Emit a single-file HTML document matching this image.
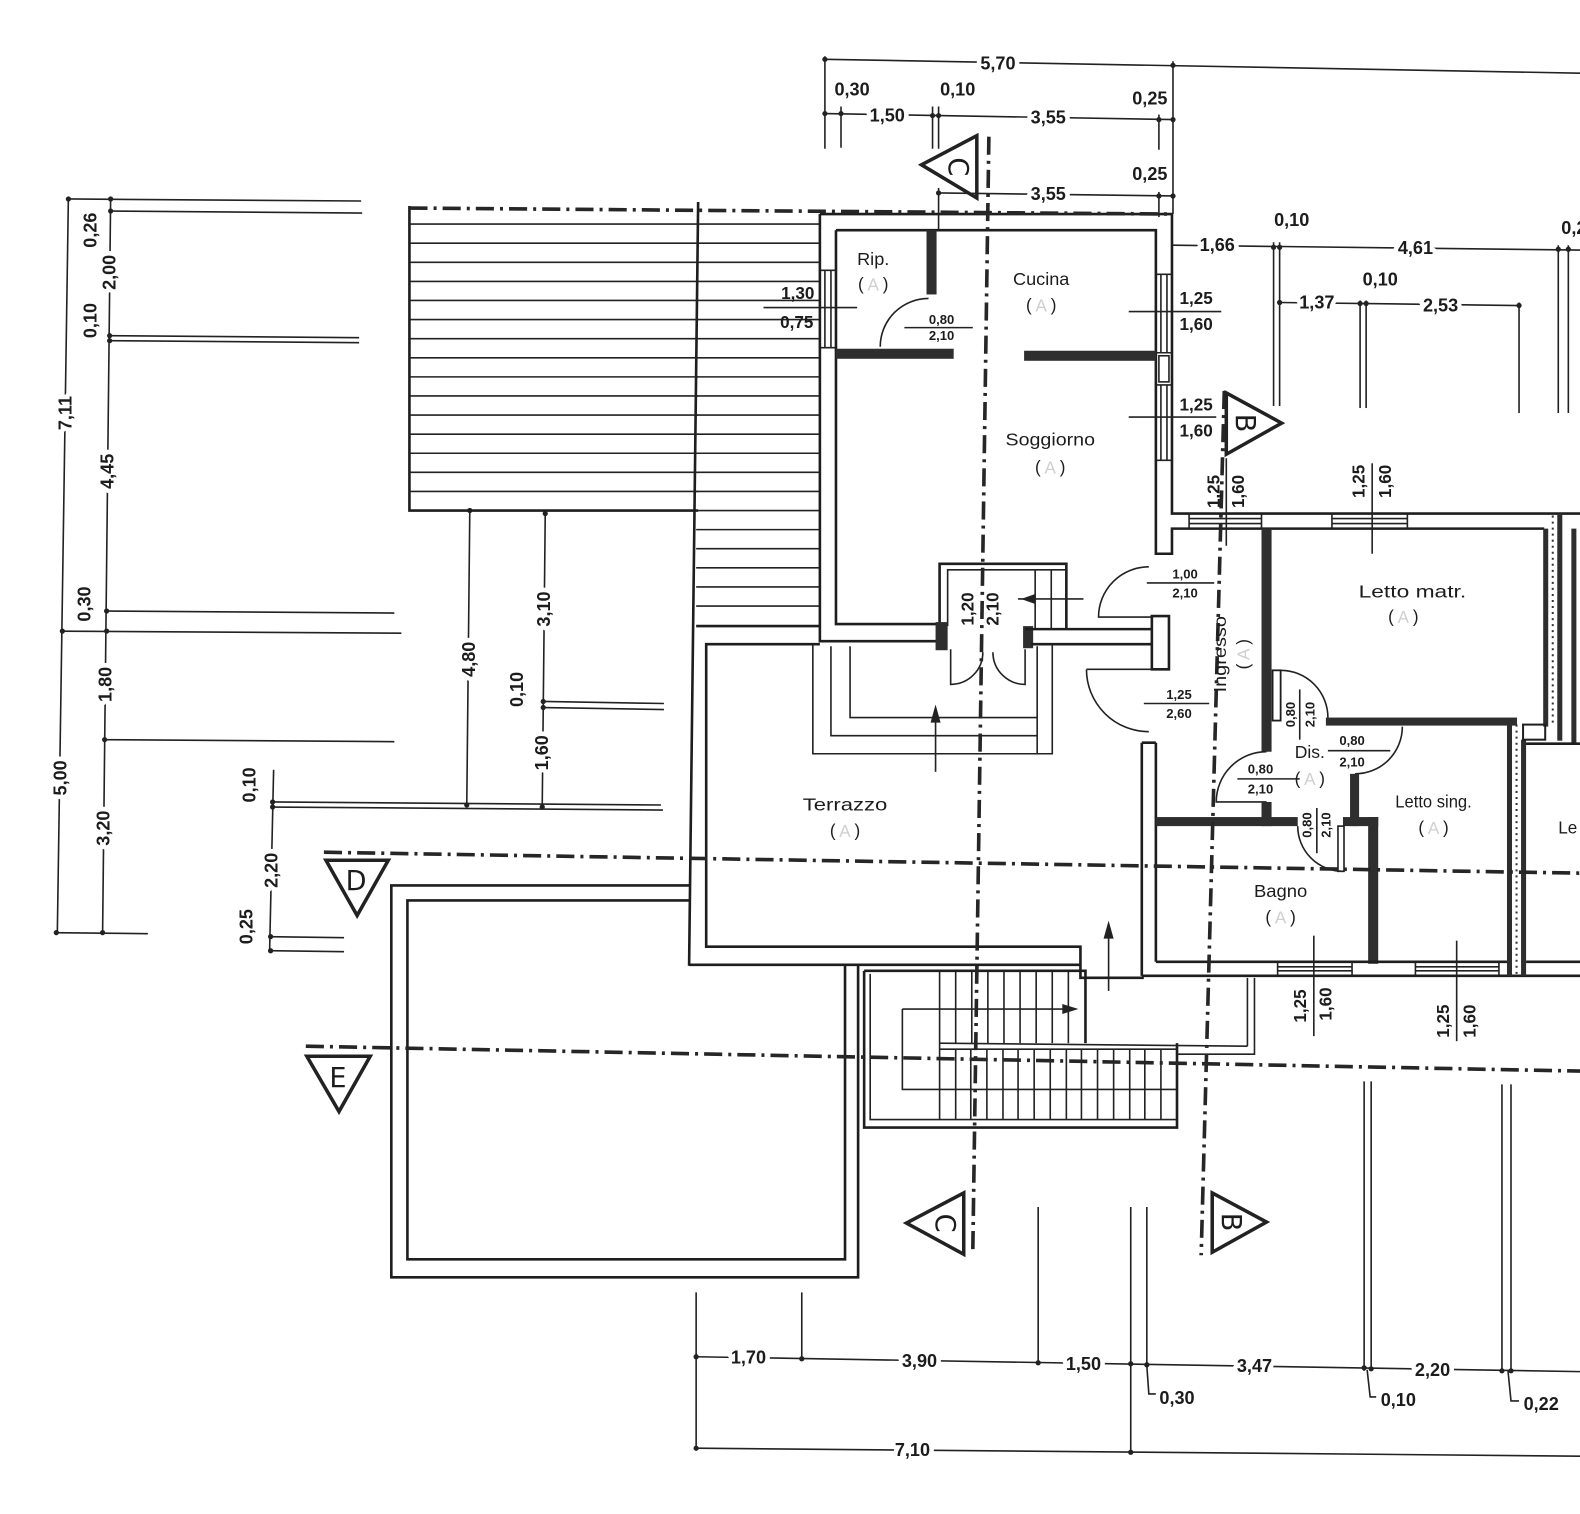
<!DOCTYPE html>
<html><head><meta charset="utf-8"><title>Pianta</title>
<style>
html,body{margin:0;padding:0;background:#fff;overflow:hidden}
svg{display:block}
text{font-family:"Liberation Sans",Arial,sans-serif;fill:#1c1c1c;text-anchor:middle;dominant-baseline:central}
.d{font-size:18px;font-weight:bold;stroke:#fff;stroke-width:9px;paint-order:stroke;stroke-linejoin:round}
.n{font-size:17px;font-weight:bold}
.s{font-size:13px;font-weight:bold}
.r{font-size:17px}
.a{fill:#cfcfcf}
.t{stroke:#222;stroke-width:1.6;fill:none}
.w{stroke:#1e1e1e;stroke-width:2.6;fill:none}
.f{fill:#2e2e2e}
.dd{stroke:#262626;stroke-width:3.6;fill:none;stroke-dasharray:18 6 3 6}
.tri{stroke:#222;stroke-width:3.5;fill:#fff;stroke-linejoin:miter}
.L{font-size:27px;font-family:"DejaVu Sans",sans-serif}
.dt{fill:#222}
</style></head><body>
<svg width="1580" height="1514" viewBox="0 0 1580 1514" xmlns="http://www.w3.org/2000/svg">
<rect width="1580" height="1514" fill="#fff"/>
<g transform="translate(2,1) scale(1.006,1.005)">

<!-- ===== LEFT DIMENSIONS ===== -->
<g class="t">
<line x1="66" y1="195" x2="55" y2="927"/>
<line x1="108" y1="195" x2="100" y2="927"/>
<line x1="66" y1="197" x2="357" y2="199"/>
<line x1="108" y1="209" x2="358" y2="211"/>
<line x1="107" y1="333" x2="355" y2="335"/>
<line x1="107" y1="338" x2="355" y2="340"/>
<line x1="104" y1="607" x2="390" y2="609"/>
<line x1="60" y1="627" x2="397" y2="629"/>
<line x1="102" y1="735" x2="390" y2="737"/>
<line x1="52" y1="927" x2="145" y2="928"/>
<line x1="270" y1="765" x2="266" y2="946"/>
<line x1="268" y1="797" x2="655" y2="800"/>
<line x1="268" y1="802" x2="657" y2="805"/>
<line x1="266" y1="931" x2="340" y2="932"/>
<line x1="266" y1="945" x2="340" y2="946"/>
<line x1="465" y1="507" x2="462" y2="800"/>
<line x1="540" y1="510" x2="537" y2="802"/>
<line x1="538" y1="697" x2="658" y2="699"/>
<line x1="538" y1="703" x2="658" y2="705"/>
</g>
<g class="dt">
<circle cx="66" cy="197" r="2.6"/><circle cx="108" cy="197" r="2.6"/><circle cx="108" cy="209" r="2.6"/>
<circle cx="107" cy="333" r="2.6"/><circle cx="107" cy="338" r="2.6"/><circle cx="104" cy="607" r="2.6"/>
<circle cx="60" cy="627" r="2.6"/><circle cx="104" cy="627" r="2.6"/><circle cx="102" cy="735" r="2.6"/>
<circle cx="54" cy="927" r="2.6"/><circle cx="100" cy="927" r="2.6"/>
<circle cx="269" cy="797" r="2.6"/><circle cx="269" cy="802" r="2.6"/><circle cx="267" cy="931" r="2.6"/><circle cx="267" cy="945" r="2.6"/>
<circle cx="465" cy="507" r="2.6"/><circle cx="540" cy="510" r="2.6"/><circle cx="538" cy="697" r="2.6"/><circle cx="538" cy="703" r="2.6"/>
<circle cx="462" cy="800" r="2.6"/><circle cx="537" cy="802" r="2.6"/>
</g>
<text class="d" transform="translate(88,228) rotate(-90)">0,26</text>
<text class="d" transform="translate(107,270) rotate(-90)">2,00</text>
<text class="d" transform="translate(88,318) rotate(-90)">0,10</text>
<text class="d" transform="translate(63,410) rotate(-90)">7,11</text>
<text class="d" transform="translate(105,468) rotate(-90)">4,45</text>
<text class="d" transform="translate(82,600) rotate(-90)">0,30</text>
<text class="d" transform="translate(103,680) rotate(-90)">1,80</text>
<text class="d" transform="translate(58,773) rotate(-90)">5,00</text>
<text class="d" transform="translate(101,823) rotate(-90)">3,20</text>
<text class="d" transform="translate(246,780) rotate(-90)">0,10</text>
<text class="d" transform="translate(268,865) rotate(-90)">2,20</text>
<text class="d" transform="translate(243,921) rotate(-90)">0,25</text>
<text class="d" transform="translate(464,655) rotate(-90)">4,80</text>
<text class="d" transform="translate(539,605) rotate(-90)">3,10</text>
<text class="d" transform="translate(512,685) rotate(-90)">0,10</text>
<text class="d" transform="translate(537,748) rotate(-90)">1,60</text>

<!-- ===== HATCHED BLOCK + STRIP ===== -->
<path class="w" d="M405,204 V507 H692"/>
<path class="w" d="M692,200 L683,960"/>
<g class="t">
<line x1="405" y1="222" x2="692" y2="222"/><line x1="405" y1="241" x2="692" y2="241"/>
<line x1="405" y1="260" x2="692" y2="260"/><line x1="405" y1="279" x2="692" y2="279"/>
<line x1="405" y1="298" x2="692" y2="298"/><line x1="405" y1="317" x2="692" y2="317"/>
<line x1="405" y1="336" x2="692" y2="336"/><line x1="405" y1="355" x2="692" y2="355"/>
<line x1="405" y1="374" x2="692" y2="374"/><line x1="405" y1="393" x2="692" y2="393"/>
<line x1="405" y1="412" x2="692" y2="412"/><line x1="405" y1="431" x2="692" y2="431"/>
<line x1="405" y1="450" x2="692" y2="450"/><line x1="405" y1="469" x2="692" y2="469"/>
<line x1="405" y1="488" x2="692" y2="488"/>
<line x1="691" y1="222" x2="813" y2="222"/><line x1="691" y1="241" x2="813" y2="241"/>
<line x1="691" y1="260" x2="813" y2="260"/><line x1="691" y1="279" x2="813" y2="279"/>
<line x1="691" y1="298" x2="813" y2="298"/><line x1="691" y1="317" x2="813" y2="317"/>
<line x1="691" y1="336" x2="813" y2="336"/><line x1="691" y1="355" x2="813" y2="355"/>
<line x1="691" y1="374" x2="813" y2="374"/><line x1="691" y1="393" x2="813" y2="393"/>
<line x1="691" y1="412" x2="813" y2="412"/><line x1="691" y1="431" x2="813" y2="431"/>
<line x1="691" y1="450" x2="813" y2="450"/><line x1="691" y1="469" x2="813" y2="469"/>
<line x1="690" y1="488" x2="813" y2="488"/><line x1="690" y1="507" x2="813" y2="507"/>
<line x1="690" y1="526" x2="813" y2="526"/><line x1="690" y1="545" x2="813" y2="545"/>
<line x1="690" y1="564" x2="813" y2="564"/><line x1="690" y1="583" x2="813" y2="583"/>
<line x1="690" y1="602" x2="813" y2="602"/>
</g>
<path class="w" d="M690,622 H813"/>

<!-- ===== TERRAZZO ===== -->
<path class="w" d="M683,959 H1072"/>
<path class="w" d="M813,640 H700 V941 H1072 V972 H1135"/>
<path class="t" d="M806,640 V749 H1044 V640"/>
<path class="t" d="M824,642 V731 H1029"/>
<path class="t" d="M843,642 V713 H1029"/>
<path class="t" d="M1029,642 V749"/>
<path class="t" d="M928,767 V710"/><polygon class="dt" points="928,700 923,718 933,718"/>
<path class="t" d="M1100,985 V925"/><polygon class="dt" points="1100,915 1095,933 1105,933"/>

<!-- ===== LOWER RECTANGLE ===== -->
<path class="w" d="M683,880 H387 V1270 H851 V959"/>
<path class="w" d="M683,895 H403 V1252 H838 V959"/>

<!-- ===== STAIRS ===== -->
<path class="w" d="M857,965 H1077 V1037"/>
<path class="w" d="M857,965 V1121 H1168 V1037"/>
<path class="t" d="M863,968 V1113 H1168"/>
<path class="t" d="M932,965 V1113"/>
<g class="t">
<line x1="948" y1="966" x2="948" y2="1037"/><line x1="964" y1="966" x2="964" y2="1037"/>
<line x1="980" y1="966" x2="980" y2="1037"/><line x1="996" y1="966" x2="996" y2="1037"/>
<line x1="1012" y1="966" x2="1012" y2="1037"/><line x1="1028" y1="966" x2="1028" y2="1037"/>
<line x1="1044" y1="966" x2="1044" y2="1037"/><line x1="1060" y1="966" x2="1060" y2="1037"/>
<line x1="948" y1="1043" x2="948" y2="1113"/><line x1="963" y1="1043" x2="963" y2="1113"/>
<line x1="979" y1="1043" x2="979" y2="1113"/><line x1="995" y1="1043" x2="995" y2="1113"/>
<line x1="1010" y1="1043" x2="1010" y2="1113"/><line x1="1026" y1="1043" x2="1026" y2="1113"/>
<line x1="1042" y1="1043" x2="1042" y2="1113"/><line x1="1058" y1="1043" x2="1058" y2="1113"/>
<line x1="1073" y1="1043" x2="1073" y2="1113"/><line x1="1089" y1="1043" x2="1089" y2="1113"/>
<line x1="1105" y1="1043" x2="1105" y2="1113"/><line x1="1121" y1="1043" x2="1121" y2="1113"/>
<line x1="1136" y1="1043" x2="1136" y2="1113"/><line x1="1152" y1="1043" x2="1152" y2="1113"/>
<line x1="932" y1="1037" x2="1238" y2="1040"/>
<line x1="932" y1="1043" x2="1168" y2="1043"/>
<path d="M895,1003 H1058"/>
<path d="M895,1003 V1083 H1168"/>
<path d="M1238,972 V1040"/>
<path d="M1245,972 V1048 H1168"/>
</g>
<polygon class="dt" points="1070,1003 1054,998 1054,1008"/>

<!-- ===== MAIN BUILDING ===== -->
<path class="w" d="M813,212 H1163 V510 H1580"/>
<path class="w" d="M813,212 V637 H930"/>
<path class="w" d="M829,228 H1147 V550 H1163 V525 H1533"/>
<path class="w" d="M829,228 V620 H930"/>
<g class="t"><line x1="813" y1="268" x2="829" y2="268"/><line x1="813" y1="345" x2="829" y2="345"/>
<line x1="818" y1="268" x2="818" y2="345"/><line x1="824" y1="268" x2="824" y2="345"/></g>
<g class="t"><line x1="1147" y1="272" x2="1163" y2="272"/><line x1="1147" y1="350" x2="1163" y2="350"/>
<line x1="1152" y1="272" x2="1152" y2="350"/><line x1="1158" y1="272" x2="1158" y2="350"/>
<line x1="1147" y1="382" x2="1163" y2="382"/><line x1="1147" y1="457" x2="1163" y2="457"/>
<line x1="1152" y1="382" x2="1152" y2="457"/><line x1="1158" y1="382" x2="1158" y2="457"/>
<rect x="1150" y="353" width="10" height="26"/></g>
<rect class="f" x="919" y="228" width="10" height="64"/>
<rect class="f" x="829" y="346" width="117" height="10"/>
<rect class="f" x="1016" y="348" width="131" height="10"/>
<path class="t" d="M921,296 A48,48 0 0 0 873,344"/>
<path class="w" d="M932,622 V560 H1058 V625"/>
<path class="t" d="M940,622 V566 H1058"/>
<path class="t" d="M1027,566 V625 M1043,566 V625"/>
<path class="t" d="M1010,595 H1075"/><polygon class="dt" points="1013,595 1027,590 1027,600"/>
<rect class="f" x="928" y="618" width="12" height="28"/>
<rect class="f" x="1015" y="622" width="10" height="22"/>
<path class="w" d="M1017,625 H1143 M1023,640 H1143"/>
<rect class="w" x="1143" y="612" width="17" height="53"/>
<path class="t" d="M943,645 V680 A32,32 0 0 0 975,648"/>
<path class="t" d="M1017,645 V680 A32,32 0 0 1 985,648"/>
<path class="t" d="M1140,563 A50,50 0 0 0 1090,613 H1143"/>
<path class="t" d="M1078,665 A62,62 0 0 0 1140,727 M1078,665 H1143"/>
<path class="w" d="M1147,738 V956 M1133,738 V970 M1133,738 H1147"/>

<!-- ===== BEDROOM BLOCK ===== -->
<g class="t"><line x1="1180" y1="510" x2="1180" y2="525"/><line x1="1252" y1="510" x2="1252" y2="525"/>
<line x1="1180" y1="515" x2="1252" y2="515"/><line x1="1180" y1="520" x2="1252" y2="520"/>
<line x1="1322" y1="510" x2="1322" y2="525"/><line x1="1397" y1="510" x2="1397" y2="525"/>
<line x1="1322" y1="515" x2="1397" y2="515"/><line x1="1322" y1="520" x2="1397" y2="520"/></g>
<rect class="f" x="1252" y="525" width="10" height="222"/>
<path class="t" d="M1257,747 A50,50 0 0 0 1207,797 H1257"/>
<rect class="f" x="1252" y="797" width="10" height="24"/>
<rect class="w" x="1263" y="666" width="8" height="50" style="stroke-width:1.8"/>
<path class="t" d="M1271,666 A47,47 0 0 1 1318,713"/>
<rect class="f" x="1316" y="713" width="190" height="8"/>
<path class="t" d="M1392,722 A47,47 0 0 1 1345,769"/>
<rect class="f" x="1340" y="769" width="9" height="52"/>
<rect class="f" x="1333" y="812" width="35" height="9"/>
<rect class="f" x="1358" y="812" width="10" height="146"/>
<rect class="f" x="1147" y="812" width="141" height="9"/>
<rect class="w" x="1328" y="821" width="6" height="45" style="stroke-width:1.6"/>
<path class="t" d="M1288,821 A45,45 0 0 0 1333,866"/>
<path class="w" d="M1133,970 H1580 M1147,956 H1496 M1515,956 H1580"/>
<g class="t"><line x1="1268" y1="956" x2="1268" y2="970"/><line x1="1342" y1="956" x2="1342" y2="970"/>
<line x1="1268" y1="961" x2="1342" y2="961"/><line x1="1268" y1="965" x2="1342" y2="965"/>
<line x1="1405" y1="956" x2="1405" y2="970"/><line x1="1488" y1="956" x2="1488" y2="970"/>
<line x1="1405" y1="961" x2="1488" y2="961"/><line x1="1405" y1="965" x2="1488" y2="965"/></g>
<rect class="f" x="1496" y="718" width="5" height="252"/>
<rect class="f" x="1510" y="735" width="5" height="235"/>
<line x1="1505.5" y1="720" x2="1505.5" y2="970" stroke="#333" stroke-width="2" stroke-dasharray="2 4"/>
<rect class="f" x="1532" y="525" width="5" height="197"/>
<rect class="f" x="1546" y="510" width="5" height="226"/>
<line x1="1541.5" y1="512" x2="1541.5" y2="720" stroke="#333" stroke-width="2" stroke-dasharray="2 4"/>
<rect class="w" x="1512" y="720" width="22" height="15" style="stroke-width:2"/>
<rect class="f" x="1560" y="525" width="5" height="214"/>
<path class="w" d="M1515,739 H1580"/>

<!-- ===== SECTION LINES ===== -->
<path class="dd" d="M405,206 L1163,212"/>
<path class="dd" d="M981,135 L965,1245"/>
<path class="dd" d="M1215,388 L1192,1248"/>
<path class="dd" d="M320,847 L1580,868"/>
<path class="dd" d="M302,1040 L1580,1065"/>
<polygon class="tri" points="914,163 969,134 969,196"/>
<text class="L" transform="translate(950,165) rotate(90)">C</text>
<polygon class="tri" points="899,1216 956,1186 956,1247"/>
<text class="L" transform="translate(937,1216) rotate(90)">C</text>
<polygon class="tri" points="1217,390 1272,420 1217,451"/>
<text class="L" transform="translate(1235,420) rotate(90)">B</text>
<polygon class="tri" points="1203,1186 1257,1215 1203,1245"/>
<text class="L" transform="translate(1221,1215) rotate(90)">B</text>
<polygon class="tri" points="322,855 384,855 353,910"/>
<text class="L" x="352" y="876">D</text>
<polygon class="tri" points="303,1050 366,1050 335,1105"/>
<text class="L" x="334" y="1072">E</text>

<!-- ===== TOP DIMENSIONS ===== -->
<g class="t">
<line x1="818" y1="58" x2="1580" y2="72"/>
<line x1="818" y1="112" x2="1164" y2="118"/>
<line x1="931" y1="191" x2="1164" y2="194"/>
<line x1="818" y1="55" x2="818" y2="147"/>
<line x1="834" y1="105" x2="834" y2="146"/>
<line x1="925" y1="105" x2="925" y2="147"/>
<line x1="931" y1="105" x2="931" y2="147"/>
<line x1="1150" y1="113" x2="1150" y2="148"/>
<line x1="1164" y1="60" x2="1164" y2="212"/>
<line x1="931" y1="186" x2="931" y2="227"/>
<line x1="1150" y1="190" x2="1150" y2="215"/>
<line x1="1164" y1="243" x2="1580" y2="248"/>
<line x1="1264" y1="240" x2="1264" y2="403"/>
<line x1="1270" y1="240" x2="1270" y2="403"/>
<line x1="1547" y1="243" x2="1547" y2="410"/>
<line x1="1557" y1="243" x2="1557" y2="410"/>
<line x1="1270" y1="300" x2="1508" y2="303"/>
<line x1="1350" y1="298" x2="1350" y2="405"/>
<line x1="1356" y1="298" x2="1356" y2="405"/>
<line x1="1508" y1="300" x2="1508" y2="410"/>
</g>
<g class="dt">
<circle cx="818" cy="58" r="2.6"/><circle cx="1164" cy="64" r="2.6"/>
<circle cx="818" cy="112" r="2.6"/><circle cx="834" cy="112" r="2.6"/><circle cx="925" cy="114" r="2.6"/><circle cx="931" cy="114" r="2.6"/>
<circle cx="1150" cy="118" r="2.6"/><circle cx="1164" cy="118" r="2.6"/>
<circle cx="931" cy="191" r="2.6"/><circle cx="1150" cy="194" r="2.6"/><circle cx="1164" cy="194" r="2.6"/>
<circle cx="1264" cy="245" r="2.6"/><circle cx="1270" cy="245" r="2.6"/><circle cx="1547" cy="247" r="2.6"/><circle cx="1557" cy="247" r="2.6"/>
<circle cx="1270" cy="300" r="2.6"/><circle cx="1350" cy="301" r="2.6"/><circle cx="1356" cy="301" r="2.6"/><circle cx="1508" cy="303" r="2.6"/>
</g>
<text class="d" x="990" y="62">5,70</text>
<text class="d" x="845" y="88">0,30</text>
<text class="d" x="950" y="88">0,10</text>
<text class="d" x="880" y="114">1,50</text>
<text class="d" x="1040" y="116">3,55</text>
<text class="d" x="1141" y="97">0,25</text>
<text class="d" x="1040" y="192">3,55</text>
<text class="d" x="1141" y="172">0,25</text>
<text class="d" x="1208" y="243">1,66</text>
<text class="d" x="1282" y="218">0,10</text>
<text class="d" x="1405" y="246">4,61</text>
<text class="d" x="1550" y="226" style="text-anchor:start">0,22</text>
<text class="d" x="1307" y="300">1,37</text>
<text class="d" x="1370" y="277">0,10</text>
<text class="d" x="1430" y="303">2,53</text>

<!-- ===== BOTTOM DIMENSIONS ===== -->
<g class="t">
<line x1="690" y1="1349" x2="1580" y2="1364"/>
<line x1="690" y1="1440" x2="1580" y2="1448"/>
<line x1="690" y1="1285" x2="690" y2="1442"/>
<line x1="795" y1="1285" x2="795" y2="1352"/>
<line x1="1030" y1="1200" x2="1030" y2="1357"/>
<line x1="1122" y1="1200" x2="1122" y2="1446"/>
<line x1="1138" y1="1200" x2="1138" y2="1360"/>
<line x1="1354" y1="1075" x2="1354" y2="1363"/>
<line x1="1361" y1="1075" x2="1361" y2="1363"/>
<line x1="1491" y1="1078" x2="1491" y2="1365"/>
<line x1="1500" y1="1078" x2="1500" y2="1365"/>
<path d="M1138,1358 L1140,1386 H1147"/>
<path d="M1357,1362 L1360,1389 H1366"/>
<path d="M1497,1363 L1500,1393 H1508"/>
</g>
<g class="dt">
<circle cx="690" cy="1349" r="2.6"/><circle cx="795" cy="1351" r="2.6"/><circle cx="1030" cy="1355" r="2.6"/>
<circle cx="1122" cy="1356" r="2.6"/><circle cx="1138" cy="1357" r="2.6"/><circle cx="1354" cy="1360" r="2.6"/>
<circle cx="1361" cy="1361" r="2.6"/><circle cx="1491" cy="1363" r="2.6"/><circle cx="1500" cy="1363" r="2.6"/>
<circle cx="690" cy="1440" r="2.6"/><circle cx="1122" cy="1444" r="2.6"/>
</g>
<text class="d" x="742" y="1350">1,70</text>
<text class="d" x="912" y="1353">3,90</text>
<text class="d" x="1075" y="1356">1,50</text>
<text class="d" x="1245" y="1358">3,47</text>
<text class="d" x="1422" y="1362">2,20</text>
<text class="d" x="905" y="1442">7,10</text>
<text class="d" x="1168" y="1390">0,30</text>
<text class="d" x="1388" y="1392">0,10</text>
<text class="d" x="1530" y="1396">0,22</text>

<!-- ===== WINDOW / DOOR DIMENSIONS ===== -->
<g class="t">
<path d="M757,305 H850"/>
<path d="M1120,309 H1212"/>
<path d="M1120,414 H1207"/>
<path d="M1217,455 V542"/>
<path d="M1362,460 V550"/>
<path d="M1304,930 V1030"/>
<path d="M1446,935 V1035"/>
<path d="M897,325 H965"/>
<path d="M1138,579 H1205"/>
<path d="M1135,699 H1200"/>
<path d="M1290,685 V735"/>
<path d="M1318,746 H1380"/>
<path d="M1228,774 H1290"/>
<path d="M1307,803 V848"/>
</g>
<text class="n" x="791" y="291">1,30</text>
<text class="n" x="790" y="320">0,75</text>
<text class="n" x="1187" y="296">1,25</text>
<text class="n" x="1187" y="322">1,60</text>
<text class="n" x="1187" y="402">1,25</text>
<text class="n" x="1187" y="428">1,60</text>
<text class="n" transform="translate(1205,488) rotate(-90)">1,25</text>
<text class="n" transform="translate(1229,488) rotate(-90)">1,60</text>
<text class="n" transform="translate(1349,478) rotate(-90)">1,25</text>
<text class="n" transform="translate(1375,478) rotate(-90)">1,60</text>
<text class="n" transform="translate(1291,1000) rotate(-90)">1,25</text>
<text class="n" transform="translate(1316,998) rotate(-90)">1,60</text>
<text class="n" transform="translate(1433,1015) rotate(-90)">1,25</text>
<text class="n" transform="translate(1459,1015) rotate(-90)">1,60</text>
<text class="s" x="934" y="317">0,80</text>
<text class="s" x="934" y="333">2,10</text>
<text class="s" x="1176" y="570">1,00</text>
<text class="s" x="1176" y="589">2,10</text>
<text class="s" x="1170" y="690">1,25</text>
<text class="s" x="1170" y="709">2,60</text>
<text class="n" transform="translate(960,605) rotate(-90)">1,20</text>
<text class="n" transform="translate(985,605) rotate(-90)">2,10</text>
<text class="s" transform="translate(1281,710) rotate(-90)">0,80</text>
<text class="s" transform="translate(1300,710) rotate(-90)">2,10</text>
<text class="s" x="1342" y="736">0,80</text>
<text class="s" x="1342" y="757">2,10</text>
<text class="s" x="1251" y="764">0,80</text>
<text class="s" x="1251" y="784">2,10</text>
<text class="s" transform="translate(1297,820) rotate(-90)">0,80</text>
<text class="s" transform="translate(1316,820) rotate(-90)">2,10</text>

<!-- ===== ROOM LABELS ===== -->
<text class="r" x="866" y="257" textLength="32" lengthAdjust="spacingAndGlyphs">Rip.</text>
<text class="r" x="866" y="282">(<tspan class="a"> A </tspan>)</text>
<text class="r" x="1033" y="277" textLength="56" lengthAdjust="spacingAndGlyphs">Cucina</text>
<text class="r" x="1033" y="303">(<tspan class="a"> A </tspan>)</text>
<text class="r" x="1042" y="437" textLength="89" lengthAdjust="spacingAndGlyphs">Soggiorno</text>
<text class="r" x="1042" y="464">(<tspan class="a"> A </tspan>)</text>
<text class="r" x="838" y="800" textLength="84" lengthAdjust="spacingAndGlyphs">Terrazzo</text>
<text class="r" x="838" y="826">(<tspan class="a"> A </tspan>)</text>
<text class="r" x="1402" y="588" textLength="107" lengthAdjust="spacingAndGlyphs">Letto matr.</text>
<text class="r" x="1393" y="613">(<tspan class="a"> A </tspan>)</text>
<text class="r" x="1423" y="797" textLength="76" lengthAdjust="spacingAndGlyphs">Letto sing.</text>
<text class="r" x="1423" y="823">(<tspan class="a"> A </tspan>)</text>
<text class="r" x="1271" y="886" textLength="53" lengthAdjust="spacingAndGlyphs">Bagno</text>
<text class="r" x="1271" y="912">(<tspan class="a"> A </tspan>)</text>
<text class="r" x="1300" y="748" textLength="30" lengthAdjust="spacingAndGlyphs">Dis.</text>
<text class="r" x="1300" y="774">(<tspan class="a"> A </tspan>)</text>
<text class="r" transform="translate(1211,650) rotate(-90)" textLength="76" lengthAdjust="spacingAndGlyphs">Ingresso</text>
<text class="r" transform="translate(1234,650) rotate(-90)">(<tspan class="a"> A </tspan>)</text>
<text class="r" x="1547" y="823" style="text-anchor:start">Le</text>

</g>
</svg>
</body></html>
